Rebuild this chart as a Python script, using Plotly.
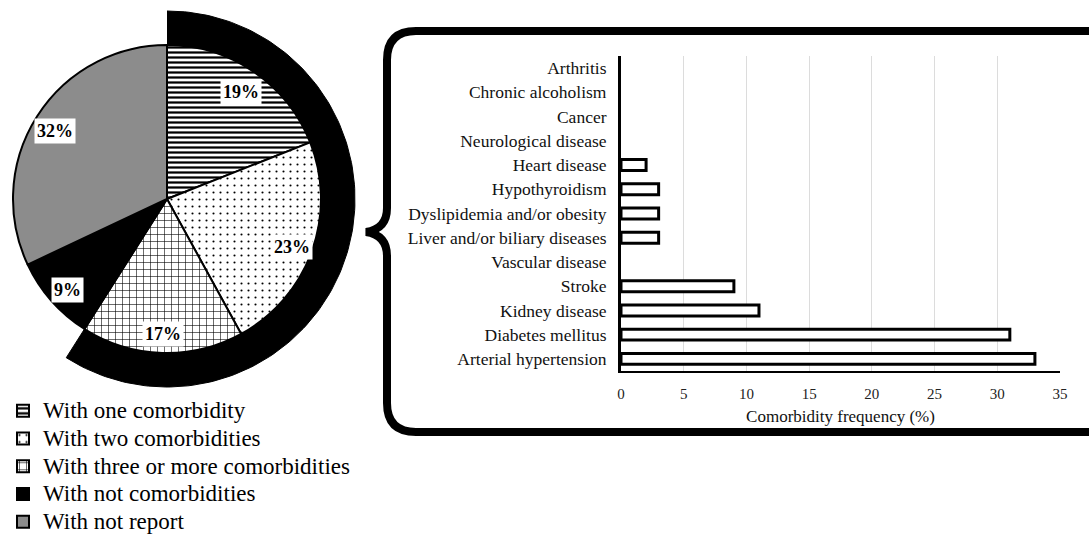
import numpy as np
import plotly.graph_objects as go

W, H = 1089, 539
FONT = "Liberation Serif, Times New Roman, serif"

# ---- data ----
pie_labels = ["With one comorbidity", "With two comorbidities",
              "With three or more comorbidities", "With not comorbidities",
              "With not report"]
pie_values = [19, 23, 17, 9, 32]
pie_text = ["19%", "23%", "17%", "9%", "32%"]

categories = ["Arthritis", "Chronic alcoholism", "Cancer", "Neurological disease",
              "Heart disease", "Hypothyroidism", "Dyslipidemia and/or obesity",
              "Liver and/or biliary diseases", "Vascular disease", "Stroke",
              "Kidney disease", "Diabetes mellitus", "Arterial hypertension"]
frequency = [0, 0, 0, 0, 2, 3, 3, 3, 0, 9, 11, 31, 33]
x_tickvals = [0, 5, 10, 15, 20, 25, 30, 35]

# ---- styles ----
pie_colors = ["white", "white", "white", "black", "#8c8c8c"]
pie_shapes = ["-", ".", "+", "", ""]
pie_sizes = [5, 7, 7, 6, 6]
pie_solid = [0.45, 0.07, 0.16, 0.3, 0.3]

cx, cy, r = 167, 199, 154      # pie geometry in pixels
R_out = 188                    # highlight ring outer radius

fig = go.Figure()

# highlight ring around slices with comorbidities (first three)
share = sum(pie_values[:3]) / sum(pie_values)
theta = np.linspace(0, 2 * np.pi * share, 160)
xs = np.concatenate([cx + R_out * np.sin(theta), (cx + r * np.sin(theta))[::-1]])
ys = np.concatenate([cy - R_out * np.cos(theta), (cy - r * np.cos(theta))[::-1]])
fig.add_trace(go.Scatter(x=xs, y=ys, xaxis="x2", yaxis="y2", mode="lines",
                         fill="toself", fillcolor="black",
                         line=dict(color="black", width=1),
                         showlegend=False, hoverinfo="skip"))

legend_labels = [f"<span style='font-size:23px'>{l}</span>" for l in pie_labels]
fig.add_trace(go.Pie(
    labels=legend_labels, values=pie_values, sort=False, direction="clockwise",
    rotation=0, textinfo="none", customdata=pie_labels,
    hovertemplate="%{customdata}: %{percent}<extra></extra>",
    marker=dict(colors=pie_colors, line=dict(color="black", width=2),
                pattern=dict(shape=pie_shapes, fgcolor="black",
                             bgcolor=pie_colors, size=pie_sizes,
                             solidity=pie_solid)),
    domain=dict(x=[(cx - r) / W, (cx + r) / W],
                y=[1 - (cy + r) / H, 1 - (cy - r) / H]),
))

fig.add_trace(go.Bar(
    y=categories, x=frequency, orientation="h", width=0.45,
    marker=dict(color="white",
                line=dict(color="black", width=[3 if v > 0 else 0 for v in frequency])),
    showlegend=False,
))

# pie percentage labels with white boxes at slice mid-angles
total = sum(pie_values)
cum = 0
annotations = []
for v, t in zip(pie_values, pie_text):
    mid = 2 * np.pi * (cum + v / 2) / total
    cum += v
    f = 0.86
    annotations.append(dict(
        x=cx + f * r * np.sin(mid), y=cy + 3 - f * r * np.cos(mid),
        xref="x2", yref="y2", text=f"<b>{t}</b>", showarrow=False,
        font=dict(family=FONT, size=18, color="black"),
        bgcolor="white", borderpad=2))

frame_path = ("M 1095,31 L 416,31 Q 387,31 387,60 L 387,208 "
              "Q 387,229 366,232 Q 387,235 387,256 L 387,403 "
              "Q 387,432 416,432 L 1095,432")

fig.update_layout(
    width=W, height=H, margin=dict(l=0, r=0, t=0, b=0, autoexpand=False),
    paper_bgcolor="white", plot_bgcolor="rgba(0,0,0,0)",
    font=dict(family=FONT, color="#111"),
    xaxis=dict(domain=[621 / W, 1060 / W], range=[0, 35], tickvals=x_tickvals,
               showgrid=True, gridcolor="#dcdcdc", gridwidth=1,
               showline=True, linecolor="black", linewidth=2, zeroline=False,
               ticks="", ticklabelstandoff=8, anchor="y",
               tickfont=dict(family=FONT, size=15, color="#222"),
               title=dict(text="Comorbidity frequency (%)", standoff=9,
                          font=dict(family=FONT, size=17, color="#111"))),
    yaxis=dict(domain=[1 - 371 / H, 1 - 56 / H], autorange="reversed",
               showline=True, linecolor="black", linewidth=3, ticks="",
               showgrid=False, ticklabelstandoff=8, anchor="x",
               tickfont=dict(family=FONT, size=17.5, color="#111")),
    xaxis2=dict(domain=[0, 1], range=[0, W], visible=False, anchor="y2",
                fixedrange=True),
    yaxis2=dict(domain=[0, 1], range=[H, 0], visible=False, anchor="x2",
                fixedrange=True),
    legend=dict(x=3 / W, y=1 - 392 / H, xanchor="left", yanchor="top",
                font=dict(family=FONT, size=19, color="black"),
                bgcolor="rgba(0,0,0,0)", tracegroupgap=0),
    shapes=[dict(type="path", path=frame_path, xref="x2", yref="y2",
                 line=dict(color="black", width=8), layer="above")],
    annotations=annotations,
)

fig.write_html("out.html", config={"displayModeBar": False},
               post_script="document.body.style.margin='0';")
